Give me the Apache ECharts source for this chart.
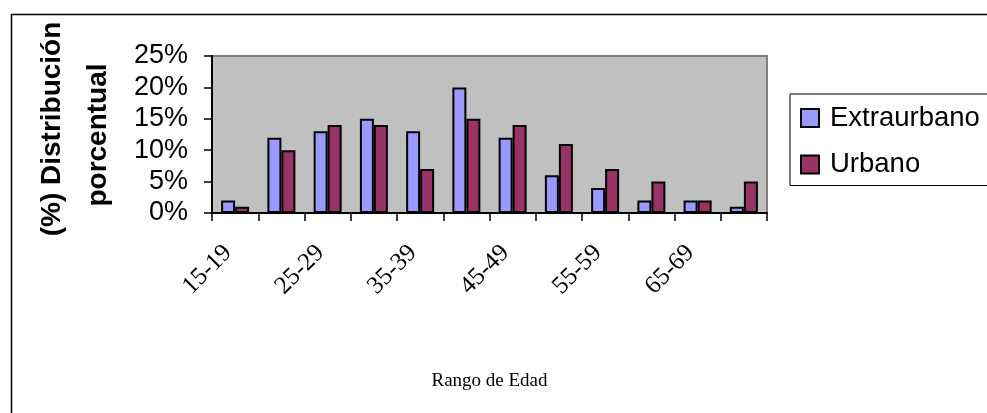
<!DOCTYPE html>
<html>
<head>
<meta charset="utf-8">
<script src="https://cdn.jsdelivr.net/npm/echarts@6/dist/echarts.min.js"></script>
<style>
html,body{margin:0;padding:0;background:#fff;}
#chart{width:987px;height:413px;}
</style>
</head>
<body>
<div id="chart"></div>
<script>
const categories = ['15-19','20-24','25-29','30-34','35-39','40-44','45-49','50-54','55-59','60-64','65-69','70-74'];
const extraurbano = [2,12,13,15,13,20,12,6,4,2,2,1];
const urbano = [1,10,14,14,7,15,14,11,7,5,2,5];
const yTicks = [0,5,10,15,20,25];

const chart = echarts.init(document.getElementById('chart'), null, {renderer:'canvas'});
const sans = '"Liberation Sans", Arial, sans-serif';
const serif = '"Liberation Serif", "Times New Roman", serif';

chart.setOption({
  animation:false,
  backgroundColor:'#ffffff',
  grid:{left:212, right:220, top:56, bottom:200, show:true, backgroundColor:'#C0C0C0', borderColor:'#808080', borderWidth:2},
  legend:{
    left:790, top:94, orient:'vertical',
    borderColor:'#000', borderWidth:1,
    padding:[10,60,7,10],
    itemWidth:18, itemHeight:18, itemGap:18.5,
    icon:'rect',
    textStyle:{fontFamily:sans, fontSize:27.5, color:'#000', padding:[0,0,0,6]},
    data:['Extraurbano','Urbano']
  },
  xAxis:{
    type:'category', data:categories,
    name:'Rango de Edad', nameLocation:'middle', nameGap:159,
    nameTextStyle:{fontFamily:serif, fontSize:19, color:'#000'},
    axisLine:{lineStyle:{color:'#000', width:2}},
    axisTick:{show:true, interval:0, length:8, lineStyle:{color:'#000', width:1.5}},
    axisLabel:{interval:1, rotate:45, margin:29, padding:[0,10,0,0], fontFamily:serif, fontSize:25, color:'#000'}
  },
  yAxis:{
    type:'value', min:0, max:25, interval:5,
    axisLine:{show:true, lineStyle:{color:'#000', width:2}},
    axisTick:{show:true, length:8, lineStyle:{color:'#000', width:1.5}},
    splitLine:{show:false},
    axisLabel:{formatter:'{value}%', fontFamily:sans, fontSize:27, color:'#000', margin:24}
  },
  series:[
    {name:'Extraurbano', type:'bar', data:extraurbano, barWidth:14, barGap:'0%',
     itemStyle:{color:'#9999FF', borderColor:'#000', borderWidth:2}},
    {name:'Urbano', type:'bar', data:urbano, barWidth:14, barGap:'0%',
     itemStyle:{color:'#993366', borderColor:'#000', borderWidth:2}}
  ],
  graphic:[
    {type:'rect', left:9, top:12, shape:{width:1100, height:600}, style:{fill:'none', stroke:'#000', lineWidth:1.5}, silent:true},
    {type:'text', x:52, y:129, rotation:Math.PI/2, style:{text:'(%) Distribución', fontFamily:sans, fontWeight:'bold', fontSize:28, fill:'#000', align:'center', verticalAlign:'middle'}},
    {type:'text', x:98, y:135, rotation:Math.PI/2, style:{text:'porcentual', fontFamily:sans, fontWeight:'bold', fontSize:28, fill:'#000', align:'center', verticalAlign:'middle'}}
  ]
});
</script>
</body>
</html>
